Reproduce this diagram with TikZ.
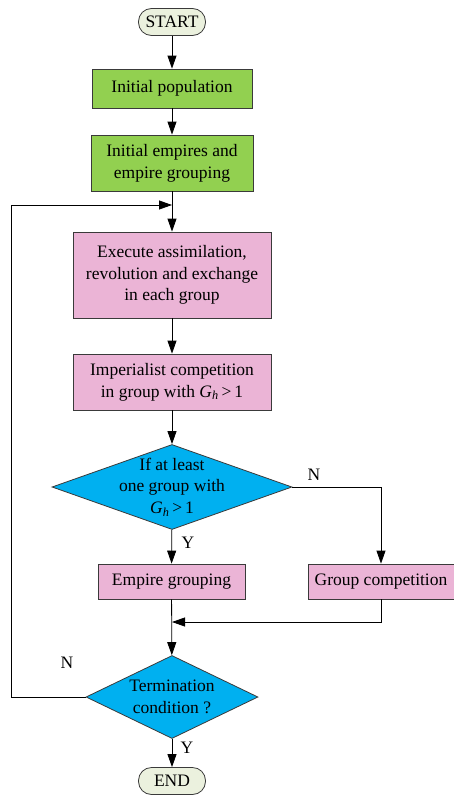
\documentclass[tikz,border=0pt]{standalone}
\usepackage{fontspec}
\setmainfont{Liberation Serif}
\usepackage{tikz}
\usetikzlibrary{shapes.geometric,arrows.meta,positioning,calc}
\definecolor{leafgreen}{HTML}{92D050}
\definecolor{softpink}{HTML}{EBB4D6}
\definecolor{skyblue}{HTML}{00B0F0}
\definecolor{palesage}{HTML}{EBF1DE}
\definecolor{edgegrey}{HTML}{3A3A3A}

\tikzset{
  terminal/.style={rectangle,rounded corners=13pt,draw=edgegrey,line width=0.8pt,fill=palesage,
    minimum width=67pt,minimum height=27pt,inner sep=0pt},
  initbox/.style={rectangle,draw=edgegrey,line width=0.8pt,fill=leafgreen,align=center,inner sep=0pt},
  stepbox/.style={rectangle,draw=edgegrey,line width=0.8pt,fill=softpink,align=center,inner sep=0pt},
  decision/.style={diamond,draw=edgegrey,line width=0.8pt,fill=skyblue,inner sep=0pt},
  flow/.style={line width=0.8pt,-{Triangle[length=13pt,width=9pt]}},
  plain/.style={line width=0.8pt},
  tag/.style={inner sep=0pt}
}

\begin{document}
\begin{tikzpicture}[x=1pt,y=-1pt,font=\fontsize{17.5}{21.8}\selectfont]
\useasboundingbox (0,0) rectangle (453,795);

\node[terminal] (start) at (172,22) {START};
\node[initbox,minimum width=160pt,minimum height=39pt] (initpop) at (172,88.5) {Initial population};
\node[initbox,minimum width=162pt,minimum height=56pt] (initemp) at (172,163) {Initial empires and\\empire grouping};
\node[stepbox,minimum width=198pt,minimum height=86pt] (execute) at (172,275) {Execute assimilation,\\revolution and exchange\\in each group};
\node[stepbox,minimum width=198pt,minimum height=56pt] (imperial) at (172,382) {Imperialist competition\\in group with \textit{G}\textsubscript{\textit{h}}\,>\,1};
\node[decision,minimum width=240pt,minimum height=85pt,
  label={[align=center]center:If at least\\one group with\\\textit{G}\textsubscript{\textit{h}}\,>\,1}] (ifgroup) at (172,487) {};
\node[stepbox,minimum width=147pt,minimum height=35pt] (empgroup) at (171.5,581.5) {Empire grouping};
\node[stepbox,minimum width=146pt,minimum height=35pt] (grpcomp) at (381,581.5) {Group competition};
\node[decision,minimum width=172pt,minimum height=83pt,
  label={[align=center]center:Termination\\condition ?}] (termcond) at (172,697) {};
\node[terminal] (end) at (172,781) {END};

\coordinate (loopjoin) at (172,205);
\coordinate (mergejoin) at (172,622);
\coordinate (loopcorner) at (11,205);

\draw[flow] (start) -- (initpop);
\draw[flow] (initpop) -- (initemp);
\draw[flow] (initemp) -- (execute);
\draw[flow] (execute) -- (imperial);
\draw[flow] (imperial) -- (ifgroup);
\draw[flow] (ifgroup) -- (empgroup);
\draw[flow] (ifgroup.east) -| (grpcomp.north);
\draw[flow] (empgroup) -- (termcond);
\draw[flow] (grpcomp.south) |- (mergejoin);
\draw[flow] (termcond.west) -| (loopcorner) -- (loopjoin);
\draw[flow] (termcond) -- (end);

\node[tag] (nright) at (314,475) {N};
\node[tag] (yfirst) at (188,543) {Y};
\node[tag] (nloop) at (67,663) {N};
\node[tag] (ylast) at (187,748) {Y};
\end{tikzpicture}
\end{document}
